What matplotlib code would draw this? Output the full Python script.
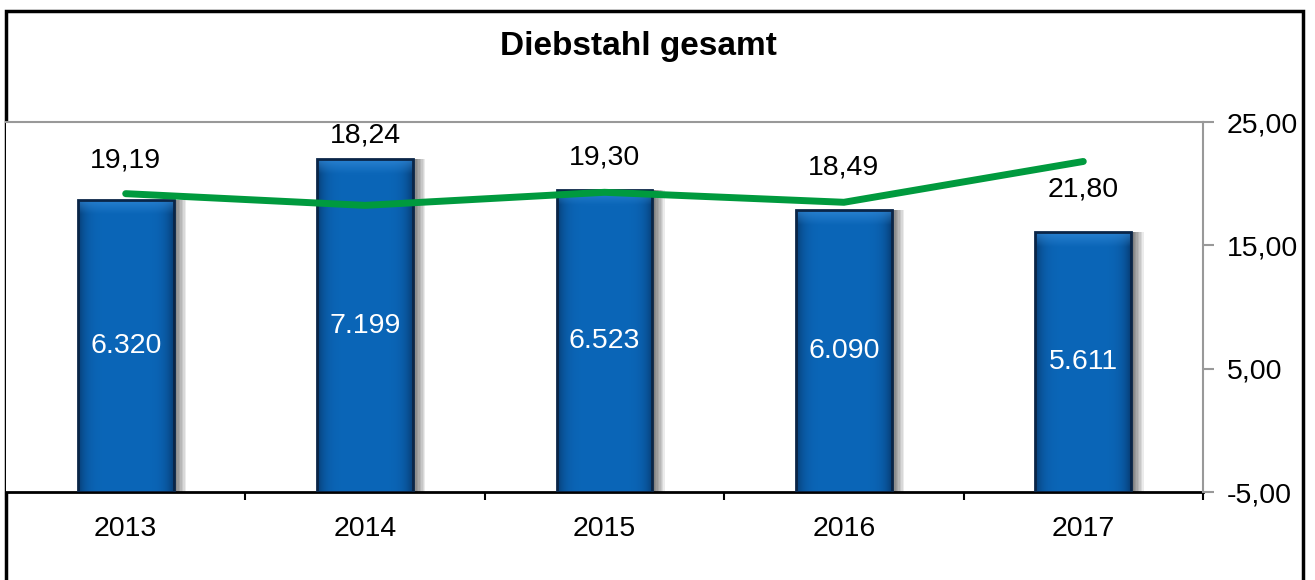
import matplotlib
matplotlib.use("Agg")
import matplotlib.pyplot as plt
from matplotlib.patches import Rectangle
from matplotlib.ticker import FixedLocator
from matplotlib.colors import to_rgb
import numpy as np

plt.rcParams['font.family'] = ['Liberation Sans', 'DejaVu Sans']

years = ["2013", "2014", "2015", "2016", "2017"]
cases = [6320, 7199, 6523, 6090, 5611]
case_labels = ["6.320", "7.199", "6.523", "6.090", "5.611"]
rate = [19.19, 18.24, 19.30, 18.49, 21.80]
rate_labels = ["19,19", "18,24", "19,30", "18,49", "21,80"]
right_ticks = [-5, 5, 15, 25]
right_tick_labels = ["-5,00", "5,00", "15,00", "25,00"]

# label offsets (points) for line labels
line_lbl_off = [24, 50, 25, 25, -20]

FS = 20.5
W, H = 1315, 580
fig = plt.figure(figsize=(W / 100, H / 100), dpi=100)
fig.patch.set_facecolor("white")

# outer frame
fig.patches.append(Rectangle((6 / W, -0.05), (1303 - 6) / W, (H - 11) / H + 0.05,
                             transform=fig.transFigure, fill=False,
                             edgecolor="black", linewidth=2.5, zorder=0))

ax = fig.add_axes([6 / W, (H - 492) / H, (1203 - 6) / W, (492 - 122) / H])
ax.set_zorder(1)
x = np.arange(len(years))
bw = 0.4
ax.set_xlim(-0.5, len(years) - 0.5)
ax.set_ylim(0, 8000)

# soft shadows to the right
for k in range(9):
    ax.bar(x + 0.004 + k * 0.006, cases, width=bw, color="black", alpha=0.08,
           linewidth=0, zorder=1)

bars = ax.bar(x, cases, width=bw, color="#0a63b5", edgecolor="none",
              linewidth=0, zorder=2)

# gradient fill for bars
dark = np.array(to_rgb("#073f78"))
mid = np.array(to_rgb("#0b66b8"))
light = np.array(to_rgb("#3b92e0"))
nx, ny = 60, 200
u = np.linspace(-1, 1, nx)
wx = np.clip(np.abs(u) ** 6, 0, 1)[None, :, None]
for b in bars:
    x0, y0 = b.get_x(), b.get_y()
    w, h = b.get_width(), b.get_height()
    img = mid[None, None, :] * (1 - wx) + dark[None, None, :] * wx
    img = np.repeat(img, ny, axis=0)
    hp = 14 / 370 * 8000 / h
    v = np.linspace(0, 1, ny)[:, None, None]
    bev = np.clip(1 - v / hp, 0, 1) * (v < hp)
    img = img * (1 - 0.6 * bev) + light[None, None, :] * 0.6 * bev
    im = ax.imshow(img, extent=(x0, x0 + w, y0, y0 + h), aspect="auto",
                   zorder=2.5, interpolation="bilinear")
    im.set_clip_path(b)
    ax.add_patch(Rectangle((x0, y0), w, h, fill=False, edgecolor="#0a2547",
                           linewidth=2, zorder=3))

for xi, c, lbl in zip(x, cases, case_labels):
    ax.text(xi, c / 2, lbl, ha="center", va="center", color="white",
            fontsize=FS, zorder=5)

ax.set_yticks([])
ax.set_xticks(x)
ax.set_xticklabels(years, fontsize=FS)
ax.xaxis.set_minor_locator(FixedLocator(np.arange(-0.5, len(years), 1.0)))
ax.tick_params(axis="x", which="major", length=0, pad=17)
ax.tick_params(axis="x", which="minor", length=6, width=1.5, color="black",
               direction="out")
for s in ["left", "right"]:
    ax.spines[s].set_visible(False)
ax.spines["top"].set_color("#999999")
ax.spines["top"].set_linewidth(1.5)
ax.spines["bottom"].set_color("black")
ax.spines["bottom"].set_linewidth(2)

ax2 = ax.twinx()
ax2.set_ylim(-5, 25)
ax2.plot(x, rate, color="#009a3e", linewidth=5, solid_capstyle="round",
         solid_joinstyle="miter", zorder=4)
for xi, r, lbl, off in zip(x, rate, rate_labels, line_lbl_off):
    ax2.annotate(lbl, (xi, r), xytext=(0, off), textcoords="offset points",
                 ha="center", va="center", fontsize=FS, color="black")
ax2.set_yticks(right_ticks)
ax2.set_yticklabels(right_tick_labels, fontsize=FS)
ax2.tick_params(axis="y", length=8, width=1.5, color="#999999", pad=9)
for s in ["left", "top", "bottom"]:
    ax2.spines[s].set_visible(False)
ax2.spines["right"].set_color("#999999")
ax2.spines["right"].set_linewidth(1.5)

fig.text(638 / W, 1 - 47 / H, "Diebstahl gesamt", ha="center", va="center",
         fontsize=24, fontweight="bold")

fig.savefig("out.png", dpi=100, facecolor="white")
